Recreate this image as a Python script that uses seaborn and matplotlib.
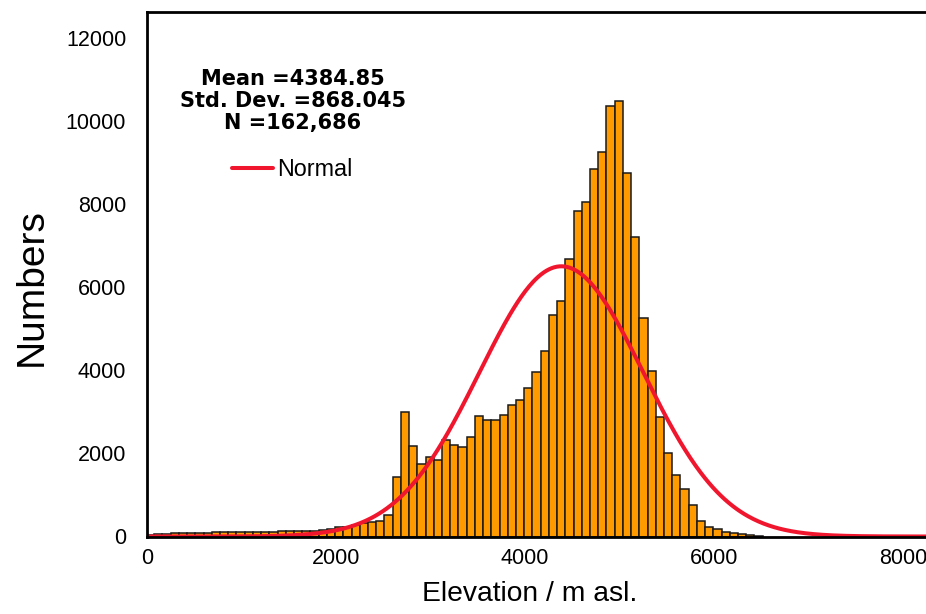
import numpy as np
import pandas as pd
import matplotlib
matplotlib.use("Agg")
import matplotlib.pyplot as plt
import seaborn as sns

# ---- data ----
bin_start = -10.0
bin_width = 87.0
counts = [40, 50, 60, 75, 80, 75, 85, 95, 100, 100,
          105, 110, 115, 110, 110, 120, 125, 130, 130, 125,
          140, 150, 180, 220, 240, 280, 330, 355, 370, 525,
          1435, 3000, 2180, 1745, 1905, 1835, 2320, 2208, 2160, 2405,
          2893, 2805, 2800, 2915, 3175, 3275, 3565, 3961, 4457, 5339,
          5676, 6686, 7840, 8064, 8843, 9267, 10373, 10493, 8761, 7215,
          5267, 3976, 2879, 2020, 1488, 1147, 770, 368, 228, 175,
          120, 80, 50, 25, 10]
stat_mean = 4384.85
stat_sd = 868.045
stat_n = 162686
x_ticks = [0, 2000, 4000, 6000, 8000]
y_ticks = [0, 2000, 4000, 6000, 8000, 10000, 12000]
stats_lines = ["Mean =4384.85", "Std. Dev. =868.045", "N =162,686"]
legend_label = "Normal"
x_label = "Elevation / m asl."
y_label = "Numbers"

# ---- build tables ----
n_bins = len(counts)
edges = bin_start + bin_width * np.arange(n_bins + 1)
centers = (edges[:-1] + edges[1:]) / 2
df = pd.DataFrame({"elev": centers, "n": counts})

xs = np.linspace(0, 8300, 600)
pdf = np.exp(-0.5 * ((xs - stat_mean) / stat_sd) ** 2) / (stat_sd * np.sqrt(2 * np.pi))
curve = pd.DataFrame({"elev": xs, "dens": stat_n * bin_width * pdf})

sns.set_theme(style="white")
plt.rcParams["font.family"] = ["Liberation Sans", "DejaVu Sans"]
plt.rcParams["text.color"] = "black"
plt.rcParams["axes.labelcolor"] = "black"

W, H = 926, 614
fig = plt.figure(figsize=(W / 100, H / 100), dpi=100)
ax_left, ax_right, ax_top, ax_bot = 147, 926, 12, 536.5
ax = fig.add_axes([ax_left / W, 1 - ax_bot / H, (ax_right - ax_left) / W, (ax_bot - ax_top) / H])

sns.histplot(data=df, x="elev", weights="n", binwidth=bin_width,
             binrange=(float(edges[0]), float(edges[-1])), ax=ax,
             color="#FF9A00", alpha=1.0, edgecolor="#1a1a1a", linewidth=1.1)
sns.lineplot(data=curve, x="elev", y="dens", ax=ax, color="#F0162E",
             linewidth=2.9, label=legend_label)

ax.set_xlim(0, (ax_right - ax_left) / 0.0945)
ax.set_ylim(0, 12626)
ax.set_xticks(x_ticks)
ax.set_yticks(y_ticks)
ax.tick_params(axis="both", labelsize=15.5, colors="black", direction="out", width=1.5)
ax.tick_params(axis="x", length=6, pad=2)
ax.tick_params(axis="y", length=6, pad=9)
for side in ["left", "top", "bottom"]:
    ax.spines[side].set_visible(True)
    ax.spines[side].set_color("black")
    ax.spines[side].set_linewidth(2.0)
ax.spines["right"].set_visible(False)

ax.set_xlabel(x_label, fontsize=20.3, color="black")
ax.set_ylabel(y_label, fontsize=28, color="black")
ax.xaxis.label.set_va("center")
ax.yaxis.label.set_va("center")
ax.xaxis.set_label_coords((530 - ax_left) / (ax_right - ax_left), -(594 - ax_bot) / (ax_bot - ax_top))
ax.yaxis.set_label_coords(-(ax_left - 32) / (ax_right - ax_left), (ax_bot - 287) / (ax_bot - ax_top))

fig.text(293 / W, 1 - 101 / H, "\n".join(stats_lines), ha="center", va="center",
         fontsize=15, fontweight="bold", family=["DejaVu Sans"], linespacing=1.15,
         color="black")

leg = ax.legend(loc="center left", bbox_to_anchor=(232 / W, 1 - 170 / H),
                bbox_transform=fig.transFigure, frameon=False, fontsize=16.8,
                handlelength=1.75, handletextpad=0.2, borderpad=0, borderaxespad=0,
                labelcolor="black")

fig.savefig("out.png", dpi=100)
